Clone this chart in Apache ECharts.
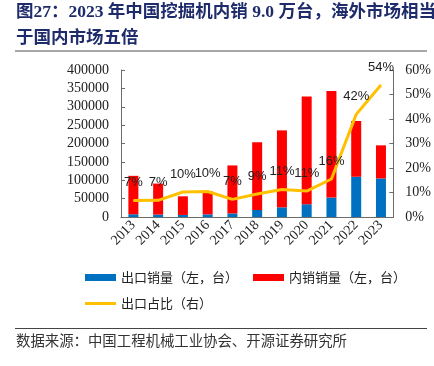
<!DOCTYPE html>
<html><head><meta charset="utf-8">
<script src="https://cdn.jsdelivr.net/npm/echarts@6/dist/echarts.min.js"></script>
<style>html,body{margin:0;padding:0;background:#fff}#c{width:434px;height:366px}</style>
</head><body><div id="c"></div>
<script>
const years = ['2013','2014','2015','2016','2017','2018','2019','2020','2021','2022','2023'];
const exportSales = [7500, 6500, 5600, 7300, 9700, 19100, 26300, 34700, 53000, 109500, 105000];
const domesticSales = [104500, 84500, 50700, 63000, 130600, 184300, 209400, 292900, 289800, 151800, 90000];
const exportRatio = [6.7, 6.8, 10.2, 10.4, 7.2, 9.4, 11.2, 10.6, 15.5, 41.9, 53.9];
const leftTicks = {min: 0, max: 400000, interval: 50000};
const rightTicks = {min: 0, max: 60, interval: 10};

const chart = echarts.init(document.getElementById('c'), null, {renderer: 'canvas'});
const serif = '"Liberation Serif", "Times New Roman", serif';
const cjk = '"Noto Sans CJK SC", sans-serif';
const axisLineColor = '#6b6b6b';
chart.setOption({
  animation: false,
  grid: {left: 121, right: 33, top: 70, bottom: 149, containLabel: false},
  graphic: [
    {type: 'text', left: 16, top: 4, style: {text: '图27：2023 年中国挖掘机内销 9.0 万台，海外市场相当', font: 'bold 17.5px "Liberation Serif", "Noto Sans CJK SC"', fill: '#1f2c6b'}},
    {type: 'text', left: 16, top: 30, style: {text: '于国内市场五倍', font: 'bold 17.5px "Liberation Serif", "Noto Sans CJK SC"', fill: '#1f2c6b'}},
    {type: 'line', shape: {x1: 15, y1: 51, x2: 427, y2: 51}, style: {stroke: '#8a8a8a', lineWidth: 1.5}},
    {type: 'line', shape: {x1: 15, y1: 328.5, x2: 427, y2: 328.5}, style: {stroke: '#444', lineWidth: 1}},
    {type: 'text', left: 16, top: 333, style: {text: '数据来源：中国工程机械工业协会、开源证券研究所', font: '14.4px "Noto Sans CJK SC"', fill: '#333'}}
  ],
  legend: [
    {data: [{name: '出口销量（左，台）', icon: 'rect'}, {name: '内销销量（左，台）', icon: 'rect'}], left: 85, top: 271, padding: 0,
     itemWidth: 31, itemHeight: 7, itemGap: 15,
     textStyle: {fontFamily: cjk, fontSize: 13, color: '#222'}},
    {data: [{name: '出口占比（右）', icon: 'rect'}], left: 85, top: 297, padding: 0, itemWidth: 31, itemHeight: 3,
     textStyle: {fontFamily: cjk, fontSize: 13, color: '#222'}}
  ],
  xAxis: {
    type: 'category', data: years,
    axisLine: {lineStyle: {color: axisLineColor}},
    axisTick: {inside: true, length: 4, lineStyle: {color: axisLineColor}},
    axisLabel: {rotate: 45, fontFamily: serif, fontSize: 14, color: '#222', margin: 6, interval: 0}
  },
  yAxis: [
    {type: 'value', min: leftTicks.min, max: leftTicks.max, interval: leftTicks.interval,
     splitLine: {show: false},
     axisLine: {show: true, lineStyle: {color: axisLineColor}},
     axisTick: {show: true, inside: true, length: 4, lineStyle: {color: axisLineColor}},
     axisLabel: {fontFamily: serif, fontSize: 14, color: '#222', margin: 12, formatter: v => String(v)}},
    {type: 'value', min: rightTicks.min, max: rightTicks.max, interval: rightTicks.interval, position: 'right',
     splitLine: {show: false},
     axisLine: {show: true, lineStyle: {color: axisLineColor}},
     axisTick: {show: true, inside: true, length: 4, lineStyle: {color: axisLineColor}},
     axisLabel: {fontFamily: serif, fontSize: 14, color: '#222', margin: 12, formatter: '{value}%'}}
  ],
  series: [
    {name: '出口销量（左，台）', type: 'bar', stack: 's', data: exportSales, barWidth: 10, itemStyle: {color: '#0070C0'}},
    {name: '内销销量（左，台）', type: 'bar', stack: 's', data: domesticSales, barWidth: 10, itemStyle: {color: '#FF0000'}},
    {name: '出口占比（右）', type: 'line', yAxisIndex: 1, data: exportRatio, symbol: 'circle', symbolSize: 1, showSymbol: true,
     lineStyle: {color: '#FFC000', width: 3}, itemStyle: {color: '#FFC000'},
     label: {show: true, position: 'top', distance: 11, fontFamily: '"Liberation Sans", Arial, sans-serif', fontSize: 13, color: '#222',
       formatter: p => Math.round(p.value) + '%'},
     labelLayout: {hideOverlap: false}}
  ]
});
</script></body></html>
